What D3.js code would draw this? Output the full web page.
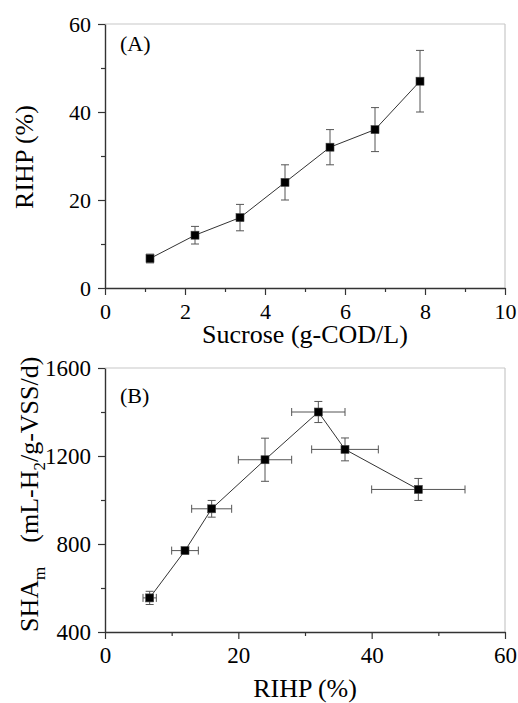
<!DOCTYPE html>
<html>
<head>
<meta charset="utf-8">
<script src="https://cdn.jsdelivr.net/npm/d3@7"></script>
<style>
  body { margin: 0; background: #fff; }
  svg text { font-family: "Liberation Serif", "Times New Roman", serif; fill: #000; }
</style>
</head>
<body>
<svg id="chart" width="518" height="703"></svg>
<script>
// values
const sucrose = [1.125, 2.25, 3.375, 4.5, 5.625, 6.75, 7.875];
const rihp = [6.7, 12, 16, 24, 32, 36, 47];
const rihpErr = [1, 2, 3, 4, 4, 5, 7];
const sham = [555, 770, 960, 1183, 1400, 1230, 1048];
const shamErr = [30, 10, 38, 98, 48, 52, 50];

const xTicksA = [0, 2, 4, 6, 8, 10];
const yTicksA = [0, 20, 40, 60];
const xTicksB = [0, 20, 40, 60];
const yTicksB = [400, 800, 1200, 1600];

const svg = d3.select('#chart');
const axisColor = '#333';
const frameColor = '#c8c8c8';
const serif = '"Liberation Serif", "Times New Roman", serif';

function panel(opts) {
  const g = svg.append('g');
  const x = d3.scaleLinear().domain(opts.xDomain).range([opts.left, opts.right]);
  const y = d3.scaleLinear().domain(opts.yDomain).range([opts.bottom, opts.top]);

  // light top / right frame
  g.append('line').attr('x1', opts.left).attr('x2', opts.right)
    .attr('y1', opts.top).attr('y2', opts.top)
    .attr('stroke', frameColor).attr('stroke-width', 1.2);
  g.append('line').attr('x1', opts.right).attr('x2', opts.right)
    .attr('y1', opts.top).attr('y2', opts.bottom)
    .attr('stroke', frameColor).attr('stroke-width', 1.2);

  // minor ticks
  g.append('g').attr('transform', `translate(0,${opts.bottom})`)
    .call(d3.axisBottom(x).tickValues(opts.xMinor).tickSize(4).tickFormat(''))
    .call(s => s.select('.domain').remove())
    .call(s => s.selectAll('line').attr('stroke', axisColor).attr('stroke-width', 1.2));
  g.append('g').attr('transform', `translate(${opts.left},0)`)
    .call(d3.axisLeft(y).tickValues(opts.yMinor).tickSize(4).tickFormat(''))
    .call(s => s.select('.domain').remove())
    .call(s => s.selectAll('line').attr('stroke', axisColor).attr('stroke-width', 1.2));

  // major axes
  const xa = g.append('g').attr('transform', `translate(0,${opts.bottom})`)
    .call(d3.axisBottom(x).tickValues(opts.xTicks).tickFormat(d3.format('d'))
      .tickSize(7).tickSizeOuter(0).tickPadding(0))
    .attr('font-family', serif).attr('font-size', opts.tickFont);
  xa.selectAll('text').attr('y', 31).attr('dy', 0);
  const ya = g.append('g').attr('transform', `translate(${opts.left},0)`)
    .call(d3.axisLeft(y).tickValues(opts.yTicks).tickFormat(d3.format('d'))
      .tickSize(7).tickSizeOuter(0).tickPadding(7))
    .attr('font-family', serif).attr('font-size', opts.tickFont);
  ya.selectAll('text').attr('dy', '0.34em');
  g.selectAll('.domain').attr('stroke', axisColor).attr('stroke-width', 1.4);
  g.selectAll('.tick line').attr('stroke', axisColor).attr('stroke-width', 1.2);
  g.selectAll('.tick text').attr('fill', '#000');

  // connecting line
  g.append('path')
    .datum(opts.data)
    .attr('fill', 'none')
    .attr('stroke', '#333')
    .attr('stroke-width', 1)
    .attr('d', d3.line().x(d => x(d.x)).y(d => y(d.y)));

  // error bars
  const cap = 4;
  const eb = g.append('g').attr('stroke', '#555').attr('stroke-width', 1);
  opts.data.forEach(d => {
    if (d.ey) {
      eb.append('line').attr('x1', x(d.x)).attr('x2', x(d.x))
        .attr('y1', y(d.y - d.ey)).attr('y2', y(d.y + d.ey));
      [d.y - d.ey, d.y + d.ey].forEach(v => {
        eb.append('line').attr('x1', x(d.x) - cap).attr('x2', x(d.x) + cap)
          .attr('y1', y(v)).attr('y2', y(v));
      });
    }
    if (d.ex) {
      eb.append('line').attr('y1', y(d.y)).attr('y2', y(d.y))
        .attr('x1', x(d.x - d.ex)).attr('x2', x(d.x + d.ex));
      [d.x - d.ex, d.x + d.ex].forEach(v => {
        eb.append('line').attr('y1', y(d.y) - cap).attr('y2', y(d.y) + cap)
          .attr('x1', x(v)).attr('x2', x(v));
      });
    }
  });

  // square markers
  const ms = 8;
  g.append('g').selectAll('rect')
    .data(opts.data).enter()
    .append('rect')
    .attr('x', d => x(d.x) - ms / 2)
    .attr('y', d => y(d.y) - ms / 2)
    .attr('width', ms)
    .attr('height', ms)
    .attr('fill', '#000')
    .attr('stroke', '#444')
    .attr('stroke-width', 0.6);

  // panel label
  g.append('text')
    .attr('x', opts.left + 15)
    .attr('y', opts.top + opts.labelDy)
    .style('font-size', '22px')
    .text(opts.label);

  return g;
}

const dataA = sucrose.map((s, i) => ({ x: s, y: rihp[i], ey: rihpErr[i] }));
const dataB = rihp.map((r, i) => ({ x: r, y: sham[i], ex: rihpErr[i], ey: shamErr[i] }));

panel({
  left: 105, right: 505, top: 24, bottom: 288,
  xDomain: [0, 10], yDomain: [0, 60],
  xTicks: xTicksA, yTicks: yTicksA,
  xMinor: [1, 3, 5, 7, 9], yMinor: [10, 30, 50],
  tickFont: 22, data: dataA, label: '(A)', labelDy: 27
});

panel({
  left: 105, right: 505, top: 368, bottom: 632,
  xDomain: [0, 60], yDomain: [400, 1600],
  xTicks: xTicksB, yTicks: yTicksB,
  xMinor: [10, 30, 50], yMinor: [600, 1000, 1400],
  tickFont: 23, data: dataB, label: '(B)', labelDy: 35
});

// axis titles
svg.append('text')
  .attr('x', 305).attr('y', 343)
  .attr('text-anchor', 'middle')
  .style('font-size', '26px')
  .text('Sucrose (g-COD/L)');

svg.append('text')
  .attr('transform', 'translate(33,157) rotate(-90)')
  .attr('text-anchor', 'middle')
  .style('font-size', '26px')
  .text('RIHP (%)');

svg.append('text')
  .attr('x', 305).attr('y', 697)
  .attr('text-anchor', 'middle')
  .style('font-size', '26px')
  .text('RIHP (%)');

// starts at the level of the x axis, like the reference
const yt = svg.append('text')
  .attr('transform', 'translate(38,632) rotate(-90)')
  .attr('text-anchor', 'start')
  .style('font-size', '26px');
yt.append('tspan').text('SHA');
yt.append('tspan').attr('dy', 7).style('font-size', '17px').text('m');
yt.append('tspan').attr('dy', -7).attr('dx', 24).text('(mL-H');
yt.append('tspan').attr('dy', 7).style('font-size', '17px').text('2');
yt.append('tspan').attr('dy', -7).text('/g-VSS/d)');
</script>
</body>
</html>
